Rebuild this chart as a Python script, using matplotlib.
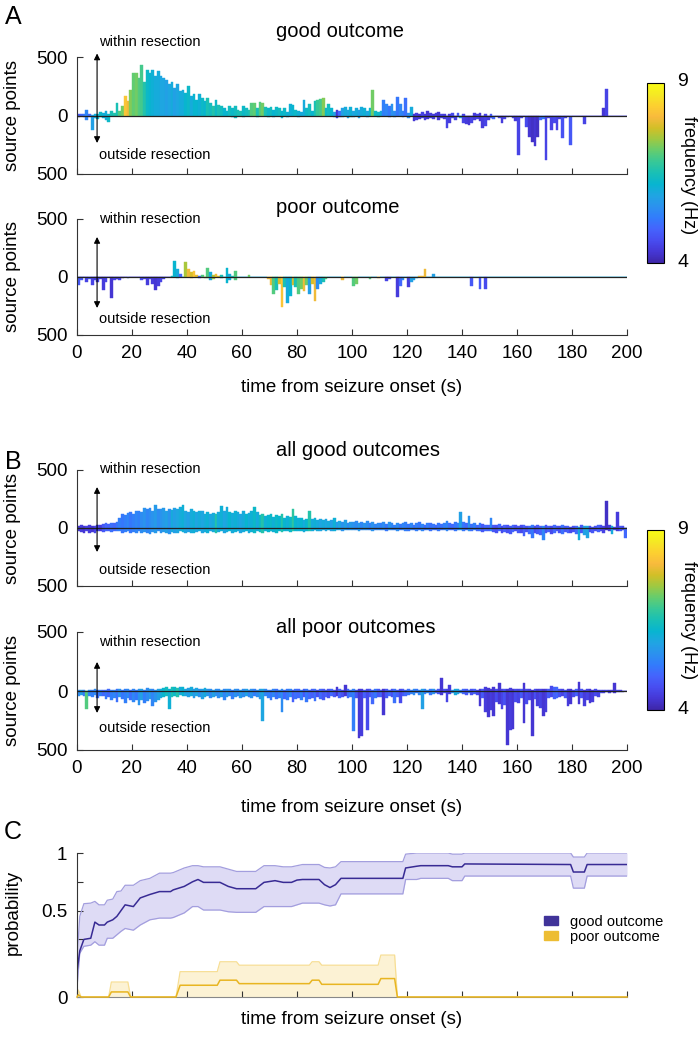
import numpy as np
import matplotlib
matplotlib.use('Agg')
import matplotlib.pyplot as plt
import matplotlib.transforms as mtrans
from matplotlib.colors import LinearSegmentedColormap, Normalize
from matplotlib.cm import ScalarMappable
from matplotlib.patches import Patch

plt.rcParams['font.family'] = ['Liberation Sans', 'DejaVu Sans']

# ── Data: source points per 1-s bin (within = up, outside = down) + peak freq ──
a_good_in = [10, 15, 10, 50, 10, 5, 15, 10, 30, 20,
             35, 10, 40, 20, 105, 40, 80, 165, 120, 220,
             365, 360, 320, 430, 290, 385, 360, 390, 340, 380,
             335, 320, 300, 265, 285, 235, 265, 207, 220, 195,
             250, 165, 180, 135, 180, 150, 120, 150, 105, 78,
             135, 90, 78, 60, 35, 78, 60, 78, 50, 40,
             78, 60, 50, 105, 105, 60, 115, 110, 70, 60,
             70, 50, 70, 60, 40, 60, 30, 100, 90, 50,
             40, 30, 130, 60, 95, 40, 120, 130, 140, 150,
             60, 95, 60, 30, 50, 40, 60, 70, 50, 70,
             40, 60, 50, 70, 65, 40, 60, 215, 40, 30,
             40, 130, 95, 80, 95, 40, 160, 100, 40, 150,
             20, 70, 10, 20, 15, 30, 10, 40, 20, 10,
             25, 30, 10, 15, 0, 10, 20, 0, 20, 0,
             10, 0, 0, 0, 20, 15, 20, 0, 10, 0,
             10, 0, 0, 0, 0, 0, 0, 0, 0, 0,
             0, 0, 0, 0, 0, 0, 0, 0, 0, 0,
             0, 0, 0, 0, 0, 0, 0, 0, 0, 0,
             0, 0, 0, 0, 0, 0, 0, 0, 0, 0,
             0, 60, 225, 0, 0, 0, 0, 0, 0, 0]
a_good_out = [10, 5, 10, 37, 10, 125, 25, 30, 10, 25,
              35, 52, 0, 5, 0, 0, 0, 0, 0, 0,
              0, 0, 0, 0, 0, 0, 0, 0, 0, 0,
              0, 0, 0, 0, 0, 0, 0, 0, 0, 0,
              0, 0, 0, 0, 0, 0, 0, 0, 0, 0,
              0, 0, 0, 0, 0, 0, 10, 20, 0, 5,
              10, 0, 5, 0, 0, 10, 0, 0, 0, 10,
              0, 10, 0, 0, 20, 0, 10, 0, 0, 0,
              10, 0, 0, 0, 0, 0, 0, 0, 0, 0,
              0, 0, 0, 10, 20, 10, 10, 0, 20, 10,
              10, 0, 20, 0, 0, 10, 0, 0, 0, 10,
              0, 0, 0, 10, 0, 10, 0, 0, 10, 0,
              20, 0, 50, 40, 30, 20, 40, 30, 20, 30,
              10, 40, 20, 30, 105, 60, 20, 40, 10, 20,
              60, 70, 80, 60, 40, 30, 50, 110, 90, 40,
              20, 30, 0, 20, 60, 30, 10, 0, 20, 50,
              335, 20, 0, 100, 180, 230, 260, 180, 40, 30,
              380, 20, 120, 60, 120, 30, 190, 20, 0, 250,
              0, 0, 0, 0, 70, 0, 0, 0, 0, 0,
              0, 0, 0, 0, 0, 0, 0, 0, 0, 0]
a_good_hz = [4.8, 5.0, 5.2, 5.4, 5.0, 5.8, 6.0, 6.2, 6.3, 6.1,
             6.0, 6.3, 6.5, 6.6, 6.5, 7.0, 7.2, 8.2, 8.0, 7.3,
             7.1, 7.2, 7.0, 6.9, 6.6, 6.3, 6.2, 6.1, 6.0, 6.0,
             5.9, 5.9, 5.8, 5.9, 6.0, 5.8, 5.9, 6.0, 6.0, 6.2,
             6.3, 6.0, 6.2, 6.2, 6.1, 6.3, 6.2, 6.5, 6.4, 6.6,
             6.3, 6.5, 6.4, 6.2, 6.2, 6.4, 6.3, 6.4, 6.5, 6.5,
             6.3, 6.4, 6.5, 7.0, 7.1, 6.5, 7.0, 7.2, 6.5, 6.3,
             6.4, 6.2, 6.3, 6.4, 6.2, 6.3, 6.1, 6.1, 6.2, 6.3,
             6.1, 6.0, 6.0, 6.3, 6.4, 6.2, 6.5, 6.8, 6.9, 7.3,
             6.3, 6.4, 6.2, 5.8, 4.3, 5.0, 5.8, 6.0, 5.9, 6.1,
             5.9, 6.0, 5.8, 6.0, 6.1, 5.9, 6.2, 7.2, 6.3, 6.3,
             6.0, 5.3, 5.4, 5.2, 5.6, 5.5, 5.2, 5.4, 5.3, 5.1,
             5.5, 6.0, 4.3, 4.4, 4.3, 4.5, 4.4, 4.3, 4.4, 4.4,
             4.4, 4.3, 4.5, 4.4, 4.5, 4.4, 4.6, 4.5, 4.8, 6.0,
             4.5, 4.4, 4.3, 4.5, 4.4, 4.5, 4.3, 4.4, 4.5, 4.4,
             4.8, 5.0, 4.5, 4.5, 4.4, 4.5, 4.5, 4.5, 4.5, 4.4,
             4.5, 4.5, 4.5, 4.6, 4.3, 4.2, 4.3, 4.2, 5.0, 5.2,
             4.5, 4.5, 4.5, 4.6, 4.5, 4.4, 4.7, 4.5, 4.5, 4.8,
             4.5, 4.5, 4.5, 4.5, 4.5, 4.5, 4.5, 4.5, 4.5, 4.5,
             4.3, 4.3, 4.5, 4.5, 4.5, 4.5, 4.5, 4.5, 4.5, 4.5]

a_poor_in = [0, 0, 0, 0, 0, 0, 0, 0, 0, 0,
             0, 0, 0, 0, 0, 0, 0, 0, 0, 0,
             0, 0, 0, 0, 0, 0, 0, 0, 0, 0,
             0, 0, 0, 0, 10, 140, 70, 30, 0, 130,
             70, 40, 50, 20, 10, 20, 0, 75, 40, 20,
             30, 10, 20, 0, 75, 30, 10, 50, 0, 0,
             0, 0, 20, 0, 0, 0, 0, 0, 0, 0] + [0] * 50 + \
            [0, 0, 0, 0, 10, 10, 70, 0, 0, 25] + [0] * 70
a_poor_out = [65, 30, 0, 40, 15, 65, 30, 40, 20, 110,
              40, 0, 180, 25, 20, 25, 10, 0, 10, 0,
              0, 0, 0, 30, 15, 70, 20, 60, 110, 80,
              40, 20, 0, 0, 0, 0, 10, 0, 0, 0,
              0, 10, 0, 0, 10, 0, 10, 10, 30, 20,
              0, 0, 10, 0, 55, 30, 10, 30, 0, 0,
              0, 0, 0, 0, 0, 0, 0, 0, 0, 20,
              70, 150, 110, 60, 255, 90, 220, 160, 70, 90,
              150, 100, 120, 70, 150, 60, 205, 100, 60, 40,
              20, 0, 0, 0, 0, 0, 25, 0, 0, 0,
              75, 60, 0, 0, 0, 0, 15, 0, 0, 10,
              0, 0, 35, 20, 0, 0, 175, 75, 30, 0,
              90, 45, 30, 10, 0, 0, 0, 0, 0, 0,
              0, 0, 0, 0, 0, 0, 0, 0, 0, 0,
              0, 0, 0, 75, 0, 0, 100, 0, 100, 0] + [0] * 50
a_poor_hz = [4.8, 4.8, 4.5, 4.5, 4.8, 4.5, 4.4, 4.5, 4.5, 4.4,
             4.5, 4.5, 4.3, 4.5, 4.4, 4.5, 4.4, 4.5, 4.8, 4.5,
             4.5, 4.5, 4.5, 4.6, 4.5, 4.4, 4.5, 4.4, 4.3, 4.4,
             4.5, 4.5, 4.5, 4.5, 6.5, 6.2, 6.0, 5.0, 6.0, 7.5,
             8.0, 7.8, 8.2, 7.9, 5.0, 7.0, 7.5, 7.0, 6.0, 7.5,
             8.0, 7.8, 6.5, 6.0, 6.2, 6.0, 6.5, 7.0, 6.0, 6.0,
             6.0, 6.0, 7.2, 6.0, 6.0, 6.0, 6.0, 6.0, 6.0, 8.0,
             8.0, 7.0, 6.5, 7.8, 8.2, 6.5, 6.0, 6.2, 7.8, 6.5,
             7.0, 7.2, 8.0, 7.2, 5.8, 7.8, 8.0, 5.5, 6.0, 6.5,
             7.0, 6.0, 6.0, 6.0, 6.0, 6.0, 8.0, 6.0, 6.0, 6.0,
             7.0, 7.2, 6.0, 6.0, 6.0, 6.0, 7.0, 6.0, 6.0, 8.0,
             6.0, 6.0, 4.5, 4.6, 6.0, 6.0, 4.4, 5.0, 5.5, 6.0,
             4.4, 5.8, 5.8, 6.0, 8.0, 8.0, 8.0, 6.0, 6.0, 5.8,
             6.0, 6.0, 6.0, 6.0, 6.0, 6.0, 6.0, 6.0, 6.0, 6.0,
             6.0, 6.0, 6.0, 4.8, 6.0, 6.0, 4.8, 6.0, 4.6, 6.0] + [6.0] * 50

b_good_in = [20, 25, 15, 20, 25, 15, 20, 30, 25, 35,
             40, 35, 45, 40, 50, 90, 120, 110, 130, 140,
             125, 145, 150, 140, 175, 160, 170, 150, 200, 165,
             160, 170, 150, 165, 155, 170, 160, 185, 200, 150,
             140, 165, 150, 135, 145, 150, 125, 135, 120, 130,
             125, 140, 190, 150, 180, 140, 130, 150, 140, 125,
             145, 120, 130, 150, 180, 140, 110, 120, 100, 115,
             120, 95, 110, 100, 120, 90, 105, 95, 165, 100,
             85, 90, 70, 80, 150, 75, 90, 70, 80, 65,
             75, 60, 70, 85, 55, 60, 50, 65, 45, 55,
             50, 60, 40, 55, 45, 60, 40, 50, 35, 45,
             40, 50, 35, 55, 40, 30, 45, 35, 40, 50,
             35, 45, 30, 40, 50, 35, 30, 45, 40, 35,
             30, 40, 35, 45, 60, 40, 35, 50, 45, 140,
             50, 40, 100, 35, 45, 30, 40, 35, 30, 25,
             90, 30, 25, 35, 20, 30, 25, 20, 30, 25,
             20, 25, 30, 20, 15, 25, 20, 30, 15, 20,
             25, 15, 20, 30, 15, 20, 25, 15, 20, 10,
             15, 20, 10, 25, 15, 20, 15, 10, 20, 25,
             30, 20, 235, 30, 20, 10, 135, 15, 20, 0]
b_good_out = [30, 35, 40, 30, 45, 35, 40, 30, 25, 35,
              30, 25, 35, 30, 25, 30, 40, 35, 30, 45,
              35, 40, 30, 45, 35, 40, 50, 35, 40, 30,
              45, 35, 40, 50, 35, 40, 45, 30, 35, 40,
              35, 40, 45, 35, 30, 40, 35, 45, 30, 35,
              40, 35, 30, 45, 35, 30, 40, 35, 30, 40,
              35, 30, 40, 35, 45, 30, 35, 40, 30, 35,
              30, 35, 40, 30, 35, 25, 30, 35, 30, 25,
              30, 25, 35, 30, 25, 30, 20, 25, 30, 20,
              25, 20, 30, 25, 20, 15, 25, 20, 15, 20,
              15, 20, 25, 15, 20, 15, 20, 25, 15, 20,
              20, 15, 25, 20, 15, 20, 25, 15, 20, 30,
              25, 20, 15, 25, 20, 30, 15, 20, 25, 15,
              20, 25, 15, 20, 30, 15, 20, 25, 20, 15,
              25, 20, 30, 25, 20, 30, 25, 35, 30, 25,
              30, 35, 40, 30, 45, 35, 40, 50, 35, 30,
              45, 40, 70, 35, 50, 90, 40, 55, 60, 100,
              40, 35, 50, 45, 30, 40, 55, 35, 45, 40,
              35, 50, 100, 40, 60, 85, 35, 40, 30, 35,
              25, 40, 20, 30, 55, 20, 30, 25, 20, 85]
b_good_hz = [4.3, 4.4, 4.3, 4.5, 4.4, 4.3, 4.5, 4.6, 4.4, 4.8,
             5.0, 4.9, 5.1, 5.0, 5.2, 5.3, 5.2, 5.3, 5.4, 5.2,
             5.3, 5.4, 5.3, 5.5, 5.6, 5.4, 5.5, 5.6, 5.7, 5.5,
             5.6, 5.7, 5.8, 5.6, 6.0, 5.8, 5.9, 6.0, 6.1, 5.9,
             5.8, 6.0, 6.1, 5.9, 6.0, 5.9, 6.0, 6.1, 5.9, 6.0,
             6.6, 6.0, 6.1, 5.9, 6.0, 6.2, 6.0, 6.1, 6.0, 5.9,
             6.0, 6.2, 6.0, 6.1, 6.3, 6.0, 6.3, 6.6, 6.1, 6.2,
             6.3, 6.1, 6.3, 6.2, 6.6, 6.2, 6.1, 6.3, 6.7, 6.2,
             6.1, 6.2, 6.0, 6.2, 6.6, 6.0, 6.1, 6.0, 5.9, 6.0,
             5.9, 6.0, 5.8, 6.1, 5.7, 5.9, 5.6, 5.8, 5.5, 5.7,
             5.6, 5.5, 5.7, 5.4, 5.6, 5.5, 5.3, 5.6, 5.4, 5.5,
             5.3, 5.5, 5.2, 5.6, 5.4, 5.3, 5.5, 5.2, 5.4, 5.3,
             5.2, 5.4, 5.1, 5.3, 5.2, 5.4, 5.0, 5.3, 5.1, 5.2,
             5.0, 5.2, 5.1, 5.3, 5.4, 5.1, 5.0, 5.2, 5.3, 5.8,
             5.2, 5.0, 5.6, 5.1, 5.3, 5.0, 5.2, 4.8, 5.0, 4.9,
             5.4, 4.8, 4.7, 5.0, 4.6, 4.9, 4.7, 4.8, 5.0, 4.7,
             4.8, 4.6, 4.9, 4.7, 5.0, 5.2, 4.6, 4.8, 4.9, 5.4,
             4.7, 4.9, 4.6, 5.0, 4.8, 4.7, 5.1, 4.8, 4.9, 4.6,
             4.7, 5.0, 6.0, 4.8, 5.8, 5.9, 4.6, 4.8, 4.7, 4.9,
             4.6, 4.5, 4.2, 4.4, 6.0, 4.6, 4.4, 4.8, 4.6, 5.0]

b_poor_in = [5, 10, 5, 0, 10, 5, 15, 10, 5, 10,
             10, 15, 5, 10, 20, 15, 10, 20, 15, 10,
             15, 10, 20, 15, 10, 25, 15, 20, 10, 15,
             20, 25, 30, 20, 35, 30, 25, 35, 30, 20,
             25, 30, 20, 25, 15, 20, 25, 15, 20, 10,
             15, 20, 10, 15, 20, 15, 10, 20, 15, 10,
             20, 15, 10, 15, 20, 10, 15, 20, 15, 10,
             10, 15, 20, 10, 15, 10, 20, 15, 10, 15,
             15, 10, 20, 15, 10, 15, 20, 10, 15, 20,
             10, 15, 20, 10, 35, 15, 10, 50, 20, 10,
             15, 10, 20, 15, 10, 20, 15, 10, 20, 15,
             10, 20, 15, 10, 15, 20, 10, 15, 20, 10,
             15, 10, 20, 15, 10, 20, 15, 10, 15, 20,
             10, 15, 110, 20, 15, 50, 10, 20, 15, 10,
             15, 20, 10, 15, 20, 10, 15, 20, 30, 25,
             20, 30, 15, 65, 20, 15, 20, 25, 15, 20,
             15, 20, 65, 20, 15, 10, 20, 15, 20, 15,
             20, 15, 40, 30, 35, 20, 15, 10, 20, 15,
             10, 20, 75, 15, 10, 20, 15, 10, 15, 10,
             5, 10, 5, 10, 5, 65, 10, 5, 0, 0]
b_poor_out = [40, 35, 45, 150, 40, 50, 35, 60, 45, 40,
              70, 50, 80, 60, 90, 55, 70, 100, 60, 80,
              90, 75, 120, 80, 100, 85, 70, 130, 90, 75,
              60, 50, 45, 150, 55, 40, 50, 35, 45, 40,
              50, 45, 60, 40, 55, 70, 50, 45, 60, 55,
              45, 60, 50, 75, 55, 40, 65, 50, 45, 60,
              50, 40, 55, 60, 45, 50, 65, 250, 45, 60,
              80, 55, 70, 60, 180, 65, 75, 55, 90, 70,
              60, 75, 55, 90, 70, 60, 85, 55, 65, 80,
              50, 60, 45, 55, 40, 60, 50, 45, 60, 50,
              340, 60, 400, 380, 60, 330, 50, 110, 60, 55,
              50, 205, 60, 45, 50, 100, 55, 100, 45, 40,
              30, 25, 35, 20, 30, 150, 25, 20, 30, 25,
              20, 25, 30, 20, 90, 25, 20, 30, 25, 20,
              25, 30, 20, 35, 25, 30, 130, 60, 180, 220,
              160, 210, 90, 110, 150, 120, 460, 330, 320, 90,
              100, 60, 275, 110, 80, 380, 70, 130, 140, 210,
              180, 60, 50, 70, 60, 55, 45, 60, 130, 110,
              50, 40, 110, 60, 130, 80, 100, 90, 45, 50,
              20, 15, 10, 20, 10, 15, 10, 5, 5, 0]
b_poor_hz = [5.5, 5.8, 5.2, 7.0, 5.4, 5.3, 5.5, 5.1, 5.3, 5.0,
             5.2, 5.0, 5.3, 5.4, 5.1, 5.6, 5.2, 5.3, 5.5, 5.1,
             5.4, 5.2, 5.6, 5.8, 5.3, 5.5, 5.7, 5.4, 5.6, 5.8,
             6.0, 6.2, 6.4, 6.1, 6.5, 6.3, 6.6, 6.0, 6.2, 5.9,
             5.8, 6.0, 5.7, 5.9, 5.6, 5.8, 6.0, 5.7, 5.5, 5.8,
             5.6, 5.5, 5.8, 5.4, 5.7, 5.5, 5.3, 5.6, 5.4, 5.7,
             5.5, 5.8, 5.4, 5.6, 5.3, 5.5, 5.7, 5.9, 5.4, 5.3,
             5.2, 5.4, 5.1, 5.3, 5.5, 5.0, 5.2, 5.4, 4.9, 5.1,
             5.0, 5.3, 4.8, 5.2, 5.0, 4.9, 5.1, 4.7, 5.0, 4.8,
             4.9, 4.7, 5.0, 4.8, 4.3, 4.9, 4.7, 4.3, 5.0, 5.2,
             5.3, 4.8, 4.3, 4.4, 4.9, 4.6, 4.8, 5.0, 5.2, 4.8,
             4.9, 4.3, 4.8, 5.0, 4.7, 5.1, 4.9, 4.6, 4.8, 5.0,
             5.1, 5.3, 5.5, 5.2, 5.4, 5.8, 5.3, 5.5, 5.2, 5.6,
             5.0, 4.8, 4.3, 4.7, 4.5, 4.4, 5.6, 6.0, 5.8, 5.5,
             5.0, 4.8, 5.2, 4.7, 4.9, 4.6, 4.3, 4.8, 4.4, 4.3,
             4.4, 4.3, 4.6, 4.3, 4.5, 4.7, 4.3, 4.4, 4.3, 4.6,
             4.5, 4.8, 4.3, 4.6, 4.5, 4.3, 4.7, 4.4, 4.5, 4.3,
             4.4, 4.8, 4.6, 4.9, 5.0, 4.7, 4.5, 4.8, 4.4, 4.3,
             4.6, 4.9, 4.3, 4.7, 4.4, 4.5, 4.3, 4.4, 4.6, 4.5,
             4.7, 4.5, 4.6, 4.4, 4.5, 4.3, 4.6, 4.5, 4.5, 4.5]

# ── Panel C: probability of localising within resection ──────────────────────
c_t = [0, 1, 2.5, 5, 6.5, 8, 10, 11, 13, 14.5, 16, 17.5, 20.5, 23, 26.5, 30, 34,
       35, 39, 42, 44, 46, 52, 55, 58, 65, 68, 72, 75, 78, 80, 82, 88, 90, 92,
       94, 96, 118.5, 119.5, 123.5, 125, 135, 136.5, 140, 141, 179.5, 180.5,
       184.5, 185.5, 200]
good_mid = [.11, .20, .25, .26, .40, .375, .375, .40, .42, .45, .50, .55, .535,
            .61, .64, .665, .665, .68, .71, .75, .77, .745, .745, .71, .69, .69,
            .745, .76, .745, .745, .765, .77, .77, .725, .70, .725, .78, .78,
            .87, .885, .89, .89, .88, .88, .905, .90, .835, .835, .90, .90]
good_lo = [.04, .19, .22, .225, .24, .225, .225, .26, .26, .29, .32, .345, .33,
           .375, .42, .435, .435, .44, .48, .535, .535, .505, .505, .49, .485,
           .485, .535, .535, .535, .535, .55, .565, .565, .55, .54, .55, .645,
           .645, .77, .77, .78, .78, .76, .76, .80, .80, .695, .695, .80, .80]
good_hi = [.17, .45, .56, .565, .58, .55, .55, .59, .60, .665, .67, .72, .72,
           .76, .78, .825, .825, .83, .87, .89, .89, .88, .88, .86, .84, .84,
           .89, .89, .88, .88, .89, .90, .90, .875, .87, .88, .925, .925, .99,
           1.0, 1.0, 1.0, .99, .99, 1.0, 1.0, .965, .965, 1.0, 1.0]

p_t = [0, 0.5, 1.5, 11.5, 12.5, 18.5, 19.5, 36, 37.5, 51, 52, 58, 59, 84.5,
       85.5, 88, 89, 109.5, 110.5, 115.5, 116.5, 200]
poor_mid = [0, .01, 0, 0, .022, .022, 0, 0, .051, .051, .073, .073, .058, .058,
            .073, .073, .055, .055, .08, .08, 0, 0]
poor_hi = [0, .03, 0, 0, .065, .065, 0, 0, .11, .11, .153, .153, .138, .138,
           .153, .153, .138, .138, .182, .182, 0, 0]

# ── Colormap (MATLAB parula, sampled) ────────────────────────────────────────
parula_pts = [(0.2422, 0.1504, 0.6603), (0.2706, 0.2147, 0.8364),
              (0.2813, 0.3006, 0.9414), (0.2699, 0.3892, 0.9906),
              (0.1963, 0.4847, 0.9892), (0.1687, 0.5703, 0.9359),
              (0.1248, 0.6459, 0.8883), (0.0297, 0.7082, 0.8163),
              (0.0964, 0.7500, 0.7120), (0.2161, 0.7843, 0.5923),
              (0.3909, 0.8029, 0.4354), (0.6174, 0.7876, 0.2612),
              (0.8203, 0.7498, 0.1535), (0.9728, 0.7298, 0.2394),
              (0.9892, 0.8136, 0.1885), (0.9597, 0.9135, 0.1423),
              (0.9769, 0.9839, 0.0805)]
PARULA = LinearSegmentedColormap.from_list('parula', parula_pts)
norm = Normalize(4, 9)

W, H = 700, 1038
fig = plt.figure(figsize=(W / 100, H / 100), dpi=100)
AX_COL = '#333333'


def box(x0, y0, x1, y1):
    # pixel box (top-left origin) -> figure fraction rect
    return [x0 / W, 1 - y1 / H, (x1 - x0) / W, (y1 - y0) / H]


def style_axes(ax):
    for s in ('top', 'right'):
        ax.spines[s].set_visible(False)
    for s in ('left', 'bottom'):
        ax.spines[s].set_color(AX_COL)
        ax.spines[s].set_linewidth(0.8)
    ax.tick_params(direction='in', length=4, width=0.8, color=AX_COL,
                   labelsize=13.5, pad=7)


def bar_panel(rect, v_in, v_out, hz, title, title_y, arr, txt, show_x):
    ax = fig.add_axes(box(*rect))
    t = np.arange(len(v_in))
    cols = PARULA(norm(np.array(hz)))
    ax.bar(t, v_in, width=1, align='edge', color=cols, edgecolor=cols, linewidth=0.3)
    ax.bar(t, -np.array(v_out), width=1, align='edge', color=cols, edgecolor=cols,
           linewidth=0.3)
    ax.axhline(0, color='#222222', lw=0.9, zorder=3)
    ax.set_xlim(0, 200)
    ax.set_ylim(-500, 500)
    ax.set_yticks([-500, 0, 500])
    ax.set_yticklabels(['500', '0', '500'])
    ax.set_xticks(range(0, 201, 20))
    if not show_x:
        ax.set_xticklabels([])
    style_axes(ax)
    tr = mtrans.blended_transform_factory(ax.transData, ax.transAxes)
    ax.text(0.362, title_y, title, transform=ax.transAxes, fontsize=14.5,
            ha='left', va='center')
    ax.annotate('', xy=(7.3, arr[0]), xytext=(7.3, arr[1]),
                xycoords=tr, textcoords=tr, annotation_clip=False,
                arrowprops=dict(arrowstyle='<|-|>', color='black', lw=0.8,
                                mutation_scale=9, shrinkA=0, shrinkB=0))
    ax.text(7.9, txt[0], 'within resection', transform=tr, fontsize=10.5,
            ha='left', va='center', clip_on=False)
    ax.text(7.9, txt[1], 'outside resection', transform=tr, fontsize=10.5,
            ha='left', va='center', clip_on=False)
    fig.text(13 / W, 1 - (rect[1] + rect[3]) / 2 / H, 'source points', rotation=90,
             fontsize=13.5, ha='center', va='center')
    return ax


def colorbar(rect, label_mid):
    cax = fig.add_axes(box(*rect))
    cb = fig.colorbar(ScalarMappable(norm=norm, cmap=PARULA), cax=cax)
    cb.set_ticks([])
    cb.outline.set_linewidth(0.8)
    fig.text(683 / W, 1 - (rect[1] - 1) / H, '9', fontsize=14, ha='center', va='center')
    fig.text(683 / W, 1 - (rect[3] - 1) / H, '4', fontsize=14, ha='center', va='center')
    fig.text(689 / W, 1 - label_mid / H, 'frequency (Hz)', rotation=270,
             fontsize=13, ha='center', va='center')


# ── A ────────────────────────────────────────────────────────────────────────
bar_panel((77, 57, 627, 174), a_good_in, a_good_out, a_good_hz, 'good outcome',
          1.222, (1.03, 0.265), (1.128, 0.162), False)
bar_panel((77, 219, 627, 335), a_poor_in, a_poor_out, a_poor_hz, 'poor outcome',
          1.103, (0.845, 0.233), (1.0, 0.14), True)
fig.text(352 / W, 1 - 387 / H, 'time from seizure onset (s)', fontsize=13.5,
         ha='center', va='center')
colorbar((647, 83, 664, 263), 175)

# ── B ────────────────────────────────────────────────────────────────────────
bar_panel((77, 470, 627, 586), b_good_in, b_good_out, b_good_hz, 'all good outcomes',
          1.164, (0.853, 0.293), (1.01, 0.138), False)
bar_panel((77, 632, 627, 750), b_poor_in, b_poor_out, b_poor_hz, 'all poor outcomes',
          1.034, (0.746, 0.314), (0.915, 0.186), True)
fig.text(352 / W, 1 - 807 / H, 'time from seizure onset (s)', fontsize=13.5,
         ha='center', va='center')
colorbar((647, 530, 664, 710), 620)

# ── C ────────────────────────────────────────────────────────────────────────
def fwd(p):
    p = np.asarray(p, float)
    return np.where(p < 0.25, 1.6 * p, 0.2 + 0.8 * p)


def inv(h):
    h = np.asarray(h, float)
    return np.where(h < 0.4, h / 1.6, (h - 0.2) / 0.8)


good_c = (0.22, 0.17, 0.58)
poor_c = (0.91, 0.71, 0.13)
axc = fig.add_axes(box(77, 853, 627, 997))
axc.set_yscale('function', functions=(fwd, inv))
axc.fill_between(c_t, good_lo, good_hi, color=(0.87, 0.86, 0.96), lw=0)
axc.plot(c_t, good_lo, color=(0.64, 0.62, 0.87), lw=0.9)
axc.plot(c_t, good_hi, color=(0.64, 0.62, 0.87), lw=0.9)
axc.plot(c_t, good_mid, color=good_c, lw=1.1)
axc.fill_between(p_t, 0, poor_hi, color=(0.99, 0.95, 0.83), lw=0)
axc.plot(p_t, poor_hi, color=(0.97, 0.87, 0.58), lw=0.9)
axc.plot(p_t, poor_mid, color=poor_c, lw=1.1, clip_on=False, zorder=4)
axc.set_xlim(0, 200)
axc.set_ylim(0, 1)
axc.set_yticks([0, 0.25, 0.5, 0.75, 1])
axc.set_yticklabels(['0', '', '0.5', '', '1'])
axc.set_xticks(range(0, 201, 20))
axc.set_xticklabels([])
style_axes(axc)
axc.spines['bottom'].set_color('#888888')
axc.legend(handles=[Patch(color=(0.25, 0.2, 0.6), label='good outcome'),
                    Patch(color=(0.93, 0.74, 0.2), label='poor outcome')],
           loc='center left', bbox_to_anchor=(0.835, 0.47), frameon=False,
           fontsize=10.5, handlelength=1.0, handleheight=0.55, handletextpad=0.8,
           labelspacing=0.05, borderpad=0)
fig.text(13 / W, 1 - 912 / H, 'probability', rotation=90, fontsize=13.5,
         ha='center', va='center')
fig.text(352 / W, 1 - 1020 / H, 'time from seizure onset (s)', fontsize=13.5,
         ha='center', va='center')

# panel letters
for letter, y in (('A', 17), ('B', 462), ('C', 832)):
    fig.text(13 / W, 1 - y / H, letter, fontsize=18, ha='center', va='center')

fig.savefig('out.png', dpi=100)
